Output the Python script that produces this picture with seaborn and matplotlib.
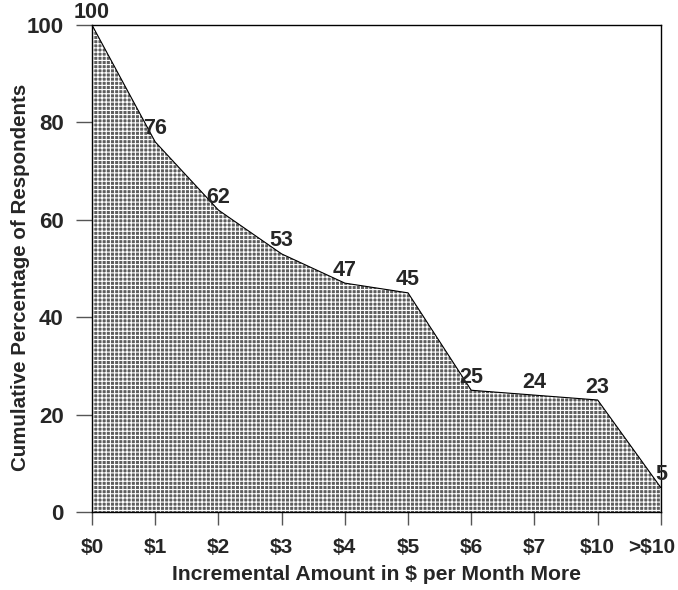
import numpy as np
import pandas as pd
import matplotlib
matplotlib.use("Agg")
import matplotlib.pyplot as plt
import matplotlib.transforms as mtransforms
import seaborn as sns

# data
categories = ["$0", "$1", "$2", "$3", "$4", "$5", "$6", "$7", "$10", ">$10"]
percent = [100, 76, 62, 53, 47, 45, 25, 24, 23, 5]

df = pd.DataFrame({"pos": np.arange(len(categories)), "pct": percent})

sns.set_style("white")
plt.rcParams["font.family"] = ["Liberation Sans", "DejaVu Sans"]
plt.rcParams["font.weight"] = "bold"
plt.rcParams["hatch.color"] = "white"
plt.rcParams["hatch.linewidth"] = 0.8

fig = plt.figure(figsize=(6.78, 5.9), dpi=100)
ax = fig.add_axes([0.1357, 0.1322, 0.839, 0.8254])

# shaded area with white grid pattern
ax.fill_between(df["pos"], df["pct"], 0, facecolor="#5e5e5e", edgecolor="none",
                hatch="++++", linewidth=0)
sns.lineplot(data=df, x="pos", y="pct", color="black", linewidth=0.8, ax=ax)

for x, y in zip(df["pos"], df["pct"]):
    ax.text(x, y + 0.5, str(y), ha="center", va="bottom", fontsize=15.5, fontweight="bold")

ax.set_xlim(0, len(categories) - 1)
ax.set_ylim(0, 100)
ax.set_xticks(df["pos"])
ax.set_xticklabels(categories)
ax.set_yticks([0, 20, 40, 60, 80, 100])
ax.tick_params(axis="x", direction="out", length=9, width=1, color="#555555",
               labelsize=15, pad=10, bottom=True)
ax.tick_params(axis="y", direction="out", length=11.5, width=1, color="#555555",
               labelsize=16, pad=9, left=True)
for lab in ax.get_xticklabels() + ax.get_yticklabels():
    lab.set_fontweight("bold")
# last label sits a little left of its tick
last = ax.get_xticklabels()[-1]
last.set_transform(last.get_transform() + mtransforms.ScaledTranslation(-9 / 100, 0, fig.dpi_scale_trans))

for side in ["top", "right", "bottom", "left"]:
    ax.spines[side].set_visible(True)
    ax.spines[side].set_color("black")
    ax.spines[side].set_linewidth(1)

ax.set_xlabel("Incremental Amount in $ per Month More", fontsize=15.2, fontweight="bold", va="center")
ax.set_ylabel("Cumulative Percentage of Respondents", fontsize=14.8, fontweight="bold", va="center")
ax.xaxis.set_label_coords(0.5, -0.129)
ax.yaxis.set_label_coords(-0.1265, 0.4815)

fig.savefig("out.png", dpi=100)
